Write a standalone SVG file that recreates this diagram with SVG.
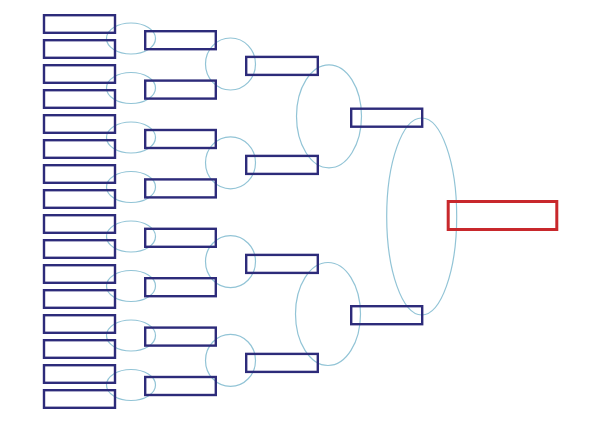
<svg xmlns="http://www.w3.org/2000/svg" width="600" height="424" viewBox="0 0 600 424">
<style>
.b{fill:none;stroke:#2d2b7a;stroke-width:2.4}
.r{fill:none;stroke:#c8282c;stroke-width:3}
.c{fill:none;stroke:#92c4d6;stroke-width:1.2}
</style>
<rect width="600" height="424" fill="#fff"/>
<g id="connectors">
<ellipse class="c" cx="131" cy="38.5" rx="24.5" ry="15.5"/>
<ellipse class="c" cx="131" cy="88" rx="24.5" ry="15.5"/>
<ellipse class="c" cx="131" cy="137.5" rx="24.5" ry="15.5"/>
<ellipse class="c" cx="131" cy="187" rx="24.5" ry="15.5"/>
<ellipse class="c" cx="131" cy="236.5" rx="24.5" ry="15.5"/>
<ellipse class="c" cx="131" cy="286" rx="24.5" ry="15.5"/>
<ellipse class="c" cx="131" cy="335.5" rx="24.5" ry="15.5"/>
<ellipse class="c" cx="131" cy="385" rx="24.5" ry="15.5"/>
<ellipse class="c" cx="230.5" cy="64" rx="25" ry="26"/>
<ellipse class="c" cx="230.5" cy="162.8" rx="25" ry="26"/>
<ellipse class="c" cx="230.5" cy="261.6" rx="25" ry="26"/>
<ellipse class="c" cx="230.5" cy="360.4" rx="25" ry="26"/>
<ellipse class="c" cx="329" cy="116.3" rx="32.5" ry="51.5"/>
<ellipse class="c" cx="328" cy="314" rx="32.5" ry="51.5"/>
<ellipse class="c" cx="421.7" cy="216.5" rx="35" ry="98.5"/>
</g>
<g id="r1-1"><rect class="b" x="44" y="15.2" width="71" height="17.6"/></g>
<g id="r1-2"><rect class="b" x="44" y="40.2" width="71" height="17.6"/></g>
<g id="r1-3"><rect class="b" x="44" y="65.2" width="71" height="17.6"/></g>
<g id="r1-4"><rect class="b" x="44" y="90.2" width="71" height="17.6"/></g>
<g id="r1-5"><rect class="b" x="44" y="115.2" width="71" height="17.6"/></g>
<g id="r1-6"><rect class="b" x="44" y="140.2" width="71" height="17.6"/></g>
<g id="r1-7"><rect class="b" x="44" y="165.2" width="71" height="17.6"/></g>
<g id="r1-8"><rect class="b" x="44" y="190.2" width="71" height="17.6"/></g>
<g id="r1-9"><rect class="b" x="44" y="215.2" width="71" height="17.6"/></g>
<g id="r1-10"><rect class="b" x="44" y="240.2" width="71" height="17.6"/></g>
<g id="r1-11"><rect class="b" x="44" y="265.2" width="71" height="17.6"/></g>
<g id="r1-12"><rect class="b" x="44" y="290.2" width="71" height="17.6"/></g>
<g id="r1-13"><rect class="b" x="44" y="315.2" width="71" height="17.6"/></g>
<g id="r1-14"><rect class="b" x="44" y="340.2" width="71" height="17.6"/></g>
<g id="r1-15"><rect class="b" x="44" y="365.2" width="71" height="17.6"/></g>
<g id="r1-16"><rect class="b" x="44" y="390.2" width="71" height="17.6"/></g>
<g id="r2-1"><rect class="b" x="145.2" y="31.2" width="70.6" height="18"/></g>
<g id="r2-2"><rect class="b" x="145.2" y="80.6" width="70.6" height="18"/></g>
<g id="r2-3"><rect class="b" x="145.2" y="130" width="70.6" height="18"/></g>
<g id="r2-4"><rect class="b" x="145.2" y="179.4" width="70.6" height="18"/></g>
<g id="r2-5"><rect class="b" x="145.2" y="228.8" width="70.6" height="18"/></g>
<g id="r2-6"><rect class="b" x="145.2" y="278.2" width="70.6" height="18"/></g>
<g id="r2-7"><rect class="b" x="145.2" y="327.6" width="70.6" height="18"/></g>
<g id="r2-8"><rect class="b" x="145.2" y="377" width="70.6" height="18"/></g>
<g id="r3-1"><rect class="b" x="246.2" y="56.9" width="71.6" height="18"/></g>
<g id="r3-2"><rect class="b" x="246.2" y="155.9" width="71.6" height="18"/></g>
<g id="r3-3"><rect class="b" x="246.2" y="254.9" width="71.6" height="18"/></g>
<g id="r3-4"><rect class="b" x="246.2" y="353.9" width="71.6" height="18"/></g>
<g id="r4-1"><rect class="b" x="351.2" y="108.7" width="71" height="18"/></g>
<g id="r4-2"><rect class="b" x="351.2" y="306.2" width="71" height="18"/></g>
<g id="final"><rect class="r" x="448.2" y="201.5" width="108.6" height="28"/></g>
</svg>
